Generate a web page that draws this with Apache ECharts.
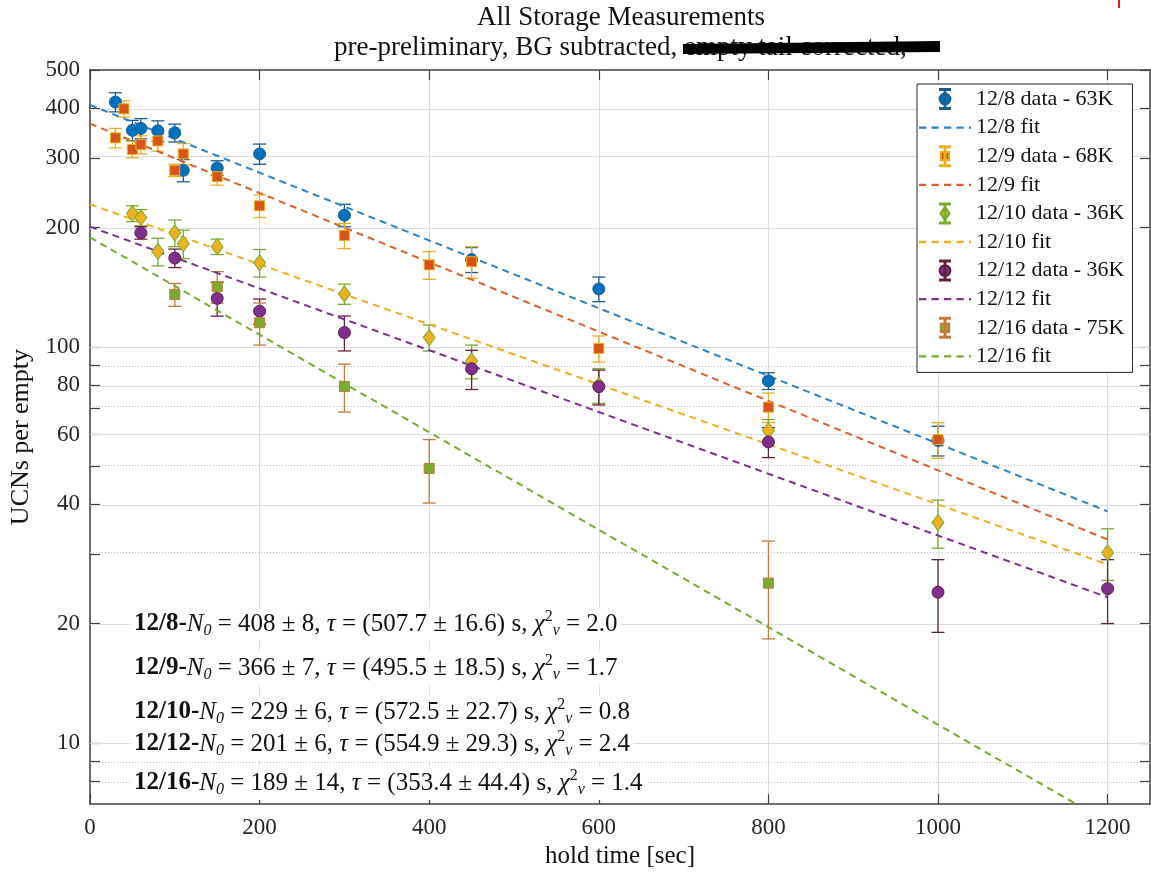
<!DOCTYPE html>
<html>
<head>
<meta charset="utf-8">
<title>All Storage Measurements</title>
<script src="https://cdn.jsdelivr.net/npm/echarts@6/dist/echarts.min.js"></script>
<style>
html, body { margin: 0; padding: 0; background: #fff; }
#chart { width: 1151px; height: 874px; }
</style>
</head>
<body>
<div id="chart"></div>
<script>
// hold time [sec], UCNs per empty and error
var time_128 = [30, 50, 60, 80, 100, 110, 150, 200, 300, 450, 600, 800, 1000];
var ucn_128  = [415, 352, 356, 351, 347, 279, 283, 307, 215, 166, 140, 82, 58];
var err_128  = [23, 21, 21, 21, 18, 18, 12, 18, 14, 12, 10, 4, 5];

var time_129 = [30, 40, 50, 60, 80, 100, 110, 150, 200, 300, 400, 450, 600, 800, 1000];
var ucn_129  = [337, 399, 315, 324, 331, 279, 307, 269, 227, 191, 161, 164, 99, 70.4, 58.3];
var err_129  = [19, 19, 15, 17, 19, 10, 19, 13, 15, 14, 13, 15, 7.5, 6, 6];

var time_1210 = [50, 60, 80, 100, 110, 150, 200, 300, 400, 450, 600, 800, 1000, 1200];
var ucn_1210  = [217, 212, 174, 194, 182, 179, 163, 136, 105.5, 92, 80, 61.5, 36, 30.2];
var err_1210  = [10, 10, 14, 15, 15, 8, 13, 8, 8, 9, 8, 4, 5, 4.5];

var time_1212 = [60, 100, 150, 200, 300, 450, 600, 800, 1000, 1200];
var ucn_1212  = [194, 167.5, 132.5, 123, 108.6, 88, 79.3, 57.5, 24, 24.5];
var err_1212  = [7, 9, 13, 9, 11, 10, 8, 5, 5, 4.5];

var time_1216 = [100, 150, 200, 300, 400, 800];
var ucn_1216  = [135.5, 141.8, 115, 79.4, 49.3, 25.3];
var err_1216  = [9, 13, 14, 11, 9, 7];

// fit lines: value at t=0 and where they end
var fitStart = [408, 366, 229, 201, 189];
var fitEndT  = [1200, 1200, 1200, 1200, 1163];
var fitEndV  = [38.4, 32.6, 28.2, 23.3, 7.0];

// fit results printed on the plot
var fitDate  = ['12/8', '12/9', '12/10', '12/12', '12/16'];
var fitN0    = [408, 366, 229, 201, 189];
var fitN0Err = [8, 7, 6, 6, 14];
var fitTau   = ['507.7', '495.5', '572.5', '554.9', '353.4'];
var fitTauErr = ['16.6', '18.5', '22.7', '29.3', '44.4'];
var fitChi2  = ['2.0', '1.7', '0.8', '2.4', '1.4'];

var legendData = ['12/8 data - 63K', '12/9 data - 68K', '12/10 data - 36K', '12/12 data - 36K', '12/16 data - 75K'];
var legendFit  = ['12/8 fit', '12/9 fit', '12/10 fit', '12/12 fit', '12/16 fit'];

// axis ticks
var xTicks = [0, 200, 400, 600, 800, 1000, 1200];
var yTicks = [500, 400, 300, 200, 100, 80, 60, 40, 20, 10];
var yMinor = [90, 70, 50, 30, 9, 8];
var yMin = 7, yMax = 500;

function lg(v) { return Math.log(v) / Math.LN10; }

var FONT = 'Liberation Serif';
var BAR = 'M-6,-12H6V-10.8H0.6V10.8H6V12H-6V10.8H-0.6V-10.8H-6Z ';
var ICON_CIRCLE = 'path://' + BAR + 'M0,-6.5A6.5,6.5 0 1 1 0,6.5A6.5,6.5 0 1 1 0,-6.5Z';
var ICON_SQUARE = 'path://' + BAR + 'M-5,-5H5V5H-5Z';
var ICON_DIAMOND = 'path://' + BAR + 'M0,-8L5.5,0L0,8L-5.5,0Z';
var ICON_DASH = 'path://M0,0H7V2.2H0Z M12,0H19V2.2H12Z M24,0H31V2.2H24Z M36,0H43V2.2H36Z M48,0H50V2.2H48Z';

var sets = [
    {t: time_128, n: ucn_128, e: err_128, color: '#0072BD', bar: '#1d5d8e', fit: '#2b83c6', symbol: 'circle', size: 12, icon: ICON_CIRCLE},
    {t: time_129, n: ucn_129, e: err_129, color: '#D95319', bar: '#E8B020', fit: '#dd5f2b', symbol: 'rect', size: 10, icon: ICON_SQUARE},
    {t: time_1210, n: ucn_1210, e: err_1210, color: '#EDB120', bar: '#77AC30', fit: '#EDB120', symbol: 'diamond', size: [12, 16], icon: ICON_DIAMOND},
    {t: time_1212, n: ucn_1212, e: err_1212, color: '#7E2F8E', bar: '#64203f', fit: '#7E2F8E', symbol: 'circle', size: 12, icon: ICON_CIRCLE},
    {t: time_1216, n: ucn_1216, e: err_1216, color: '#77AC30', bar: '#c27a3a', fit: '#77AC30', symbol: 'rect', size: 10, icon: ICON_SQUARE}
];

function errRender(color) {
    return function (params, api) {
        var x = api.value(0);
        var lo = api.coord([x, api.value(1)]);
        var hi = api.coord([x, api.value(2)]);
        var w = 6.5;
        var st = {stroke: color, lineWidth: 1.3};
        return {type: 'group', children: [
            {type: 'line', shape: {x1: lo[0], y1: lo[1], x2: hi[0], y2: hi[1]}, style: st},
            {type: 'line', shape: {x1: lo[0] - w, y1: lo[1], x2: lo[0] + w, y2: lo[1]}, style: st},
            {type: 'line', shape: {x1: hi[0] - w, y1: hi[1], x2: hi[0] + w, y2: hi[1]}, style: st}
        ]};
    };
}

var series = [];
// grid lines on the log scale
var gridLines = [];
yTicks.forEach(function (v) {
    gridLines.push({yAxis: lg(v), lineStyle: {color: '#dcdcdc', width: 1, type: 'solid'}});
});
yMinor.forEach(function (v) {
    gridLines.push({yAxis: lg(v), lineStyle: {color: '#bdbdbd', width: 1, type: [1, 2]}});
});
series.push({
    type: 'line', name: 'grid', data: [], silent: true, z: 1,
    markLine: {silent: true, z: 1, symbol: ['none', 'none'], label: {show: false}, animation: false, data: gridLines}
});

var legendItems = [];
sets.forEach(function (s, k) {
    series.push({
        type: 'custom', name: fitDate[k] + ' err', silent: true, z: 2,
        data: s.t.map(function (t, i) { return [t, lg(s.n[i] - s.e[i]), lg(s.n[i] + s.e[i])]; }),
        encode: {x: 0, y: [1, 2]},
        renderItem: errRender(s.bar)
    });
    series.push({
        type: 'scatter', name: legendData[k], z: 3,
        symbol: s.symbol, symbolSize: s.size,
        itemStyle: {color: s.color, borderColor: s.bar, borderWidth: 1, opacity: 1},
        data: s.t.map(function (t, i) { return [t, lg(s.n[i])]; })
    });
    series.push({
        type: 'line', name: legendFit[k], z: 3, symbol: 'none',
        itemStyle: {color: s.fit},
        lineStyle: {color: s.fit, width: 2, type: [7, 5]},
        data: [[0, lg(fitStart[k])], [fitEndT[k], lg(fitEndV[k])]]
    });
    legendItems.push({name: legendData[k], icon: s.icon});
    legendItems.push({name: legendFit[k], icon: ICON_DASH});
});

// fit result lines
var noteY = [624, 668, 712, 744, 783];
var graphics = [];
fitDate.forEach(function (d, k) {
    var txt = '{b|' + d + '-}{i|N}{sub|0}{r| = ' + fitN0[k] + ' ± ' + fitN0Err[k] + ', }{i|τ}{r| = (' +
        fitTau[k] + ' ± ' + fitTauErr[k] + ') s, }{i|χ}{sup|2}{sub|ν}{r| = ' + fitChi2[k] + '}';
    graphics.push({
        type: 'text', x: 131, y: noteY[k], z: 50,
        style: {
            text: txt, align: 'left', verticalAlign: 'middle',
            backgroundColor: '#fff', padding: [2, 3],
            fill: '#111', fontFamily: FONT, fontSize: 25,
            rich: {
                b: {fontFamily: FONT, fontSize: 25, fontWeight: 'bold', lineHeight: 30, verticalAlign: 'middle', fill: '#111'},
                i: {fontFamily: FONT, fontSize: 25, fontStyle: 'italic', lineHeight: 30, verticalAlign: 'middle', fill: '#111'},
                r: {fontFamily: FONT, fontSize: 25, lineHeight: 30, verticalAlign: 'middle', fill: '#111'},
                sub: {fontFamily: FONT, fontSize: 16, fontStyle: 'italic', lineHeight: 15, verticalAlign: 'bottom', fill: '#111'},
                sup: {fontFamily: FONT, fontSize: 16, lineHeight: 15, verticalAlign: 'top', fill: '#111'}
            }
        }
    });
});

// title and struck-through subtitle
graphics.push({type: 'text', x: 621, y: 18, style: {text: 'All Storage Measurements', align: 'center', verticalAlign: 'middle',
    fontFamily: FONT, fontSize: 27, fill: '#111'}});
graphics.push({type: 'text', x: 684, y: 48, style: {text: 'pre-preliminary, BG subtracted, ', align: 'right', verticalAlign: 'middle',
    fontFamily: FONT, fontSize: 27, fill: '#111'}});
graphics.push({type: 'text', x: 684, y: 48, style: {text: 'empty tail corrected,', align: 'left', verticalAlign: 'middle',
    fontFamily: FONT, fontSize: 27, fill: '#111'}});
graphics.push({type: 'polygon', z: 60, shape: {points: [[683, 44], [940, 41], [940, 52], [683, 54]]}, style: {fill: '#000'}});
graphics.push({type: 'line', shape: {x1: 1119, y1: 0, x2: 1119, y2: 8}, style: {stroke: '#e02020', lineWidth: 2}});

var axisLine = {show: true, onZero: false, lineStyle: {color: '#404040', width: 1.5}};
var tickLine = {color: '#404040', width: 1.2};
var yTickVals = yTicks.concat(yMinor).map(lg);

var chart = echarts.init(document.getElementById('chart'));
chart.setOption({
    animation: false,
    backgroundColor: '#fff',
    grid: {left: 90, right: 1, top: 70, bottom: 69, containLabel: false},
    legend: {
        orient: 'vertical', left: 917, top: 84, z: 20,
        itemWidth: 52, itemHeight: 20, itemGap: 6.6,
        padding: [4, 8, 5, 2],
        backgroundColor: '#fff', borderColor: '#262626', borderWidth: 1, borderRadius: 0,
        textStyle: {fontFamily: FONT, fontSize: 22, color: '#111'},
        data: legendItems
    },
    xAxis: [{
        type: 'value', min: 0, max: 1250, interval: 200, position: 'bottom',
        name: 'hold time [sec]', nameLocation: 'middle', nameGap: 36,
        nameTextStyle: {fontFamily: FONT, fontSize: 25, color: '#111'},
        axisLine: axisLine,
        axisTick: {inside: true, length: 10, customValues: xTicks, lineStyle: tickLine},
        axisLabel: {customValues: xTicks, margin: 12, fontFamily: FONT, fontSize: 23, color: '#262626',
            formatter: function (v) { return String(v); }},
        splitLine: {show: true, lineStyle: {color: '#dcdcdc', width: 1}}
    }, {
        type: 'value', min: 0, max: 1250, interval: 200, position: 'top',
        axisLine: axisLine,
        axisTick: {inside: true, length: 10, customValues: xTicks, lineStyle: tickLine},
        axisLabel: {show: false},
        splitLine: {show: false}
    }],
    yAxis: [{
        type: 'value', min: lg(yMin), max: lg(yMax), position: 'left',
        name: 'UCNs per empty', nameLocation: 'middle', nameGap: 53,
        nameTextStyle: {fontFamily: FONT, fontSize: 26, color: '#111'},
        axisLine: axisLine,
        axisTick: {inside: true, length: 10, customValues: yTickVals, lineStyle: tickLine},
        axisLabel: {
            customValues: yTicks.map(lg), margin: 10, fontFamily: FONT, fontSize: 23, color: '#262626',
            formatter: function (v) { return String(Math.round(Math.pow(10, v))); }
        },
        splitLine: {show: false}
    }, {
        type: 'value', min: lg(yMin), max: lg(yMax), position: 'right',
        axisLine: axisLine,
        axisTick: {inside: true, length: 10, customValues: yTickVals, lineStyle: tickLine},
        axisLabel: {show: false},
        splitLine: {show: false}
    }],
    graphic: graphics,
    series: series
});
</script>
</body>
</html>
